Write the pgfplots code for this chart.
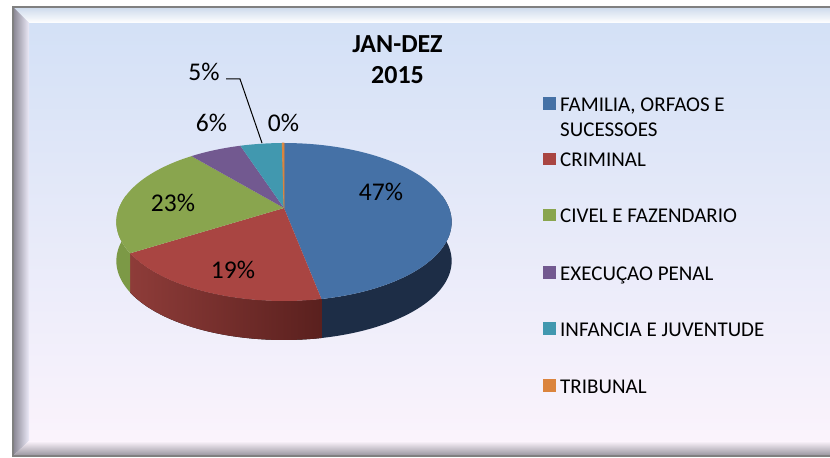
\documentclass[border=0pt]{standalone}
\usepackage{fontspec}
\setmainfont{Carlito}
\usepackage{pgfplots}
\usepackage{pgfplotstable}
\pgfplotsset{compat=1.18}
\usepgfplotslibrary{fillbetween}

\definecolor{cF}{RGB}{69,113,166}
\definecolor{cC}{RGB}{169,69,66}
\definecolor{cV}{RGB}{137,165,78}
\definecolor{cE}{RGB}{114,89,144}
\definecolor{cI}{RGB}{65,152,175}
\definecolor{cT}{RGB}{219,132,61}
\definecolor{wF}{RGB}{29,45,70}
\definecolor{wCl}{RGB}{142,60,57}
\definecolor{wCr}{RGB}{90,32,30}
\definecolor{wV}{RGB}{124,153,70}
\definecolor{bgT}{RGB}{210,224,246}
\definecolor{bgB}{RGB}{252,244,252}

% shares of each category (percent)
\pgfplotstableread{
category share
FAMILIA 47.0
CRIMINAL 19.0
CIVEL 23.0
EXECUCAO 6.0
INFANCIA 4.8
TRIBUNAL 0.2
}\piedata
\pgfplotstablegetelem{0}{share}\of\piedata \edef\sF{\pgfplotsretval}
\pgfplotstablegetelem{1}{share}\of\piedata \edef\sC{\pgfplotsretval}
\pgfplotstablegetelem{2}{share}\of\piedata \edef\sV{\pgfplotsretval}
\pgfplotstablegetelem{3}{share}\of\piedata \edef\sE{\pgfplotsretval}
\pgfplotstablegetelem{4}{share}\of\piedata \edef\sI{\pgfplotsretval}
\pgfplotstablegetelem{5}{share}\of\piedata \edef\sT{\pgfplotsretval}
\pgfmathsetmacro\tA{90}
\pgfmathsetmacro\tB{\tA-3.6*\sF}
\pgfmathsetmacro\tC{\tB-3.6*\sC}
\pgfmathsetmacro\tD{\tC-3.6*\sV}
\pgfmathsetmacro\tE{\tD-3.6*\sE}
\pgfmathsetmacro\tF{\tE-3.6*\sI}
\pgfmathsetmacro\tG{\tF-3.6*\sT}

% perspective projection of the pie's rim
\def\PX{284+165*cos(x)/(1+0.1773*sin(x))}
\def\PY{208-76.5*sin(x)/(1+0.1773*sin(x))}
\newcommand{\sw}[1]{\textcolor{#1}{\rule[1.5bp]{12.5bp}{12.5bp}}\hspace{4.5bp}}

\begin{document}
\begin{tikzpicture}
\begin{axis}[
  set layers,
  width=830bp, height=457bp, scale only axis,
  xmin=0, xmax=830, ymin=0, ymax=457, y dir=reverse,
  hide axis, clip=false,
]
% ---- background frame
\begin{pgfonlayer}{axis background}
\fill[top color=bgT, bottom color=bgB] (axis cs:13,7) rectangle (axis cs:845,456);
\shade[top color={rgb,255:red,205;green,218;blue,236}, bottom color=white]
  (axis cs:13,7) -- (axis cs:845,7) -- (axis cs:845,23) -- (axis cs:29,23) -- cycle;
\shade[left color={rgb,255:red,135;green,132;blue,145}, right color={rgb,255:red,236;green,234;blue,248}]
  (axis cs:13,7) -- (axis cs:29,23) -- (axis cs:29,441) -- (axis cs:13,456) -- cycle;
\shade[top color=bgB, bottom color={rgb,255:red,150;green,146;blue,156}]
  (axis cs:13,456) -- (axis cs:29,441) -- (axis cs:845,441) -- (axis cs:845,456) -- cycle;
\draw[line width=1.5bp, color={rgb,255:red,128;green,128;blue,128}] (axis cs:845,7) -- (axis cs:13,7) -- (axis cs:13,456) -- (axis cs:845,456);
\end{pgfonlayer}

% ---- side walls
\addplot[forget plot, draw=none, name path=FT, domain=\tB:10, samples=60] ({\PX},{\PY});
\addplot[forget plot, draw=none, name path=FB, domain=\tB:10, samples=60] ({\PX},{\PY+39});
\addplot[forget plot, fill=wF] fill between[of=FT and FB];
\addplot[forget plot, draw=none, name path=CT, domain=\tC:\tB, samples=60] ({\PX},{\PY});
\addplot[forget plot, draw=none, name path=CB, domain=\tC:\tB, samples=60] ({\PX},{\PY+39});
\addplot[forget plot, left color=wCl, right color=wCr] fill between[of=CT and CB];
\addplot[forget plot, draw=none, name path=VT, domain=-190:\tC, samples=40] ({\PX},{\PY});
\addplot[forget plot, draw=none, name path=VB, domain=-190:\tC, samples=40] ({\PX},{\PY+39});
\addplot[forget plot, fill=wV] fill between[of=VT and VB];

% ---- top face
\addplot[forget plot, draw=none, fill=cF, domain=\tB:\tA, samples=120] ({\PX},{\PY}) -- (axis cs:284,208) -- cycle;
\addplot[forget plot, draw=none, fill=cC, domain=\tC:\tB, samples=60] ({\PX},{\PY}) -- (axis cs:284,208) -- cycle;
\addplot[forget plot, draw=none, fill=cV, domain=\tD:\tC, samples=60] ({\PX},{\PY}) -- (axis cs:284,208) -- cycle;
\addplot[forget plot, draw=none, fill=cE, domain=\tE:\tD, samples=30] ({\PX},{\PY}) -- (axis cs:284,208) -- cycle;
\addplot[forget plot, draw=none, fill=cI, domain=\tF:\tE, samples=30] ({\PX},{\PY}) -- (axis cs:284,208) -- cycle;
\addplot[forget plot, draw=cT, line width=0.8bp, fill=cT, domain=\tG:\tF, samples=2] ({\PX},{\PY}) -- (axis cs:284,208) -- cycle;

% ---- data labels
\begin{scope}[every node/.style={font=\fontsize{25.5bp}{30bp}\selectfont, inner sep=0pt}]
\node at (axis cs:381,192) {47\%};
\node at (axis cs:233,270) {19\%};
\node at (axis cs:173,203) {23\%};
\node at (axis cs:211.5,122.5) {6\%};
\node at (axis cs:204,71.5) {5\%};
\node at (axis cs:283.5,122.5) {0\%};
\end{scope}
\draw[line width=1bp] (axis cs:226,79) -- (axis cs:240,79) -- (axis cs:262,143);

% ---- title
\node[font=\bfseries\fontsize{26bp}{31bp}\selectfont, align=center, inner sep=0pt] at (axis cs:397.5,60) {JAN-DEZ\\2015};

% ---- legend
\begin{scope}[every node/.style={font=\fontsize{21bp}{25.5bp}\selectfont, inner sep=0pt, anchor=base west}]
\node at (axis cs:543,111.5) {\sw{cF}FAMILIA, ORFAOS E};
\node at (axis cs:560,137) {SUCESSOES};
\node at (axis cs:543,167) {\sw{cC}CRIMINAL};
\node at (axis cs:543,223) {\sw{cV}CIVEL E FAZENDARIO};
\node at (axis cs:543,280) {\sw{cE}EXECUÇAO PENAL};
\node at (axis cs:543,336) {\sw{cI}INFANCIA E JUVENTUDE};
\node at (axis cs:543,393) {\sw{cT}TRIBUNAL};
\end{scope}
\end{axis}
\pgfresetboundingbox
\path (current axis.south west) rectangle (current axis.north east);
\end{tikzpicture}
\end{document}
